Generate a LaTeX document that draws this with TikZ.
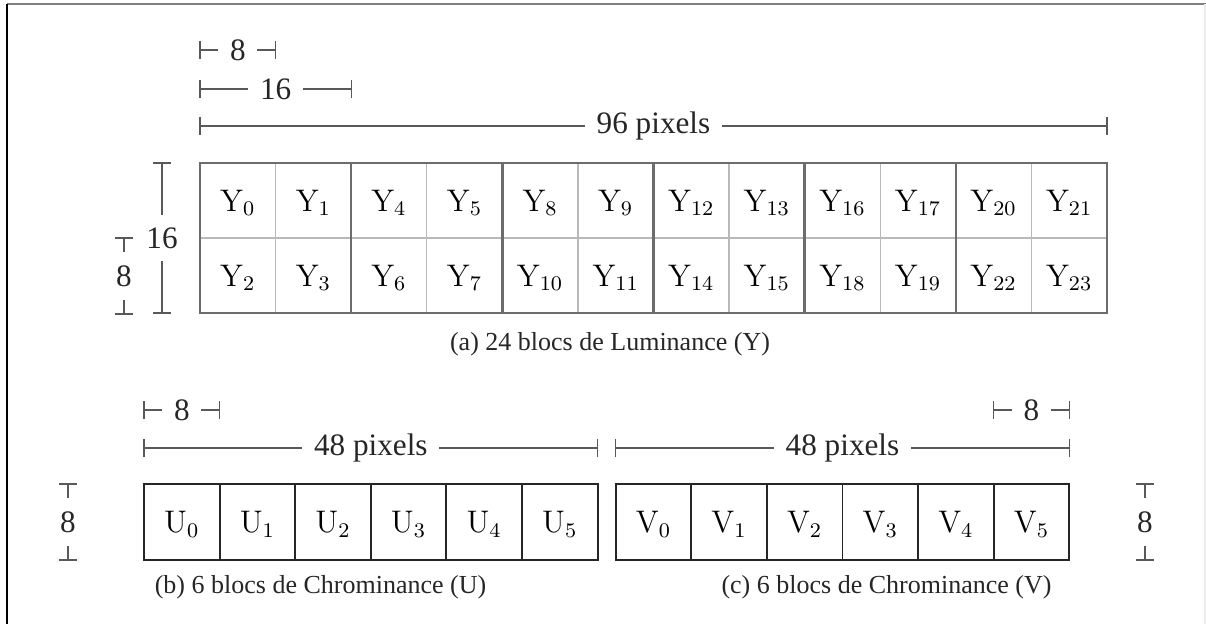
\documentclass[tikz,border=0pt]{standalone}
\usepackage[no-math]{fontspec}
\setmainfont{Liberation Serif}
\usetikzlibrary{calc}
\newcommand{\hdim}[5]{%
  \coordinate (#1a) at (#2,#4);
  \coordinate (#1b) at (#3,#4);
  \draw[dimline] (#1a) -- node[hlab] (#1l) {#5} (#1b);
  \draw[dimline] (#1a) +(0,-9) -- +(0,9);
  \draw[dimline] (#1b) +(0,-9) -- +(0,9);
}
\newcommand{\vdim}[5]{%
  \coordinate (#1a) at (#2,#3);
  \coordinate (#1b) at (#2,#4);
  \draw[dimline] (#1a) -- node[vlab] (#1l) {#5} (#1b);
  \draw[dimline] (#1a) +(-9,0) -- +(9,0);
  \draw[dimline] (#1b) +(-9,0) -- +(9,0);
}
\begin{document}
\begin{tikzpicture}[x=0.3846pt,y=-0.3846pt,
  dimline/.style={draw=gray!70!black, line width=0.5pt},
  hlab/.style={fill=white, inner xsep=4.5pt, inner ysep=1pt, font=\large, text=black!85},
  vlab/.style={fill=white, inner xsep=1pt, inner ysep=5pt, font=\large, text=black!85},
  minor/.style={draw=gray!55, line width=0.5pt},
  major/.style={draw=gray!85!black, line width=1pt},
  ycell/.style={inner sep=0pt, font=\large, text height=8.2pt, text depth=0pt},
  cbox/.style={draw=black!85, line width=0.7pt, inner sep=0pt, font=\large,
    minimum width=29.08pt, minimum height=29.2pt, text height=8.2pt, text depth=0pt},
  caption/.style={anchor=base, inner sep=0pt, text=black!85},
  frame/.style={line width=0.6pt}]
\useasboundingbox (0,0) rectangle (1206,624);
% frame
\coordinate (ftl) at (7,4);
\coordinate (ftr) at (1206,4);
\coordinate (fbl) at (7,624);
\coordinate (frt) at (1205,4);
\coordinate (frb) at (1205,624);
\draw[frame, draw=gray] (ftl) -- (ftr);
\draw[frame, draw=black] (ftl) -- (fbl);
\draw[frame, draw=gray!15] (frt) -- (frb);

% ---------- Y grid ----------
\foreach \c in {1,3,5,7,9,11} {
  \coordinate (mt\c) at ({200+\c*75.583},163);
  \coordinate (mb\c) at ({200+\c*75.583},313);
  \draw[minor] (mt\c) -- (mb\c);
}
\coordinate (hl) at (200,238);
\coordinate (hr) at (1107,238);
\draw[minor] (hl) -- (hr);
\foreach \c in {2,4,6,8,10} {
  \coordinate (Mt\c) at ({200+\c*75.583},163);
  \coordinate (Mb\c) at ({200+\c*75.583},313);
  \draw[major] (Mt\c) -- (Mb\c);
}
\coordinate (gtl) at (200,163);
\coordinate (gbr) at (1107,313);
\draw[major] (gtl) rectangle (gbr);
\foreach \c in {0,...,11} {
  \pgfmathtruncatemacro{\k}{int(\c/2)}
  \pgfmathtruncatemacro{\t}{4*\k+\c-2*\k}
  \pgfmathtruncatemacro{\b}{\t+2}
  \node[ycell] (Y\t) at ({200+(\c+0.5)*75.583},200.5) {$\mathrm{Y}_{\t}$};
  \node[ycell] (Y\b) at ({200+(\c+0.5)*75.583},275.5) {$\mathrm{Y}_{\b}$};
}
% Y dims
\hdim{da}{200}{275.6}{50}{8}
\hdim{db}{200}{351.2}{89}{16}
\hdim{dc}{200}{1107}{126}{96 pixels}
\vdim{dd}{162}{163}{313}{16}
\vdim{de}{124}{238}{314}{8}
\node[caption] (capa) at (610,350) {(a) 24 blocs de Luminance (Y)};

% ---------- U and V ----------
\foreach \i in {0,...,5} {
  \node[cbox] (U\i) at ({144+(\i+0.5)*75.6},522) {$\mathrm{U}_{\i}$};
  \node[cbox] (V\i) at ({615.7+(\i+0.5)*75.6},522) {$\mathrm{V}_{\i}$};
}
\hdim{df}{144}{219.6}{410}{8}
\hdim{dg}{144}{597.6}{448}{48 pixels}
\hdim{dh}{615.7}{1069.3}{448}{48 pixels}
\hdim{di}{993.7}{1069.3}{410}{8}
\vdim{dj}{68}{484}{560}{8}
\vdim{dk}{1145}{484}{560}{8}
\node[caption] (capb) at (320.5,593) {(b) 6 blocs de Chrominance (U)};
\node[caption] (capc) at (886.5,593) {(c) 6 blocs de Chrominance (V)};
\end{tikzpicture}
\end{document}
